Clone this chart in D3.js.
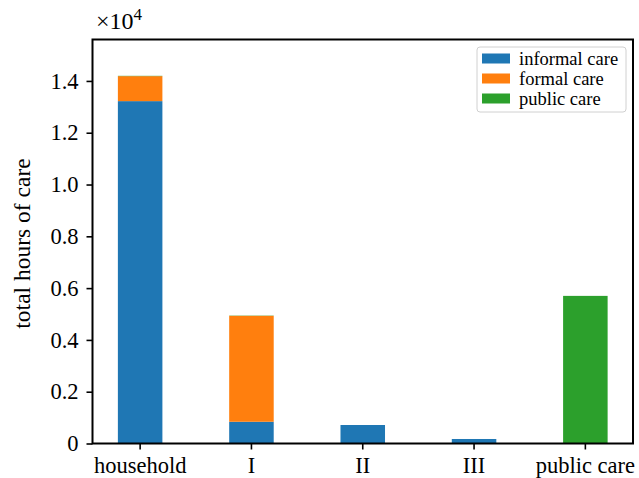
<!DOCTYPE html>
<html>
<head>
<meta charset="utf-8">
<script src="https://cdn.jsdelivr.net/npm/d3@7"></script>
<style>
  body { margin: 0; background: #fff; }
  svg { display: block; }
  text { font-family: "Liberation Serif", "DejaVu Serif", serif; fill: #000; }
</style>
</head>
<body>
<svg id="chart" width="639" height="478"></svg>
<script>
// ---- data ----
const categories = ["household", "I", "II", "III", "public care"];
const informalCare = [13220, 840, 714, 174, 0];
const formalCare = [965, 4090, 0, 0, 0];
const publicCare = [12, 10, 0, 0, 5700];
const seriesNames = ["informal care", "formal care", "public care"];
const seriesColors = ["#1f77b4", "#ff7f0e", "#2ca02c"];
const yTickValues = [0, 2000, 4000, 6000, 8000, 10000, 12000, 14000];
const yTickLabels = ["0", "0.2", "0.4", "0.6", "0.8", "1.0", "1.2", "1.4"];

// ---- layout ----
const pL = 92.5, pR = 633, pT = 39.5, pB = 443.5;
const svg = d3.select("#chart");

const table = categories.map((c, i) => ({
  cat: c,
  "informal care": informalCare[i],
  "formal care": formalCare[i],
  "public care": publicCare[i]
}));
const stacked = d3.stack().keys(seriesNames)(table);

const x = d3.scaleBand().domain(categories).range([pL, pR])
  .paddingInner(0.6).paddingOuter(0.228);
const y = d3.scaleLinear().domain([0, 15600]).range([pB, pT]);
const color = d3.scaleOrdinal().domain(seriesNames).range(seriesColors);

// bars
svg.append("g").selectAll("g").data(stacked).join("g")
  .attr("fill", d => color(d.key))
  .selectAll("rect").data(d => d).join("rect")
  .attr("x", d => x(d.data.cat))
  .attr("width", x.bandwidth())
  .attr("y", d => y(d[1]))
  .attr("height", d => Math.max(0, y(d[0]) - y(d[1])));

// axes
const yAxis = d3.axisLeft(y).tickValues(yTickValues)
  .tickFormat((d, i) => yTickLabels[i]).tickSizeOuter(0).tickSize(6).tickPadding(8);
const gy = svg.append("g").attr("transform", `translate(${pL},0)`).call(yAxis);
const xAxis = d3.axisBottom(x).tickSizeOuter(0).tickSize(6).tickPadding(8);
const gx = svg.append("g").attr("transform", `translate(0,${pB})`).call(xAxis);
[gx, gy].forEach(g => {
  g.select(".domain").remove();
  g.selectAll(".tick line").attr("stroke", "#000").attr("stroke-width", 1.6);
  g.selectAll(".tick text").style("font-size", "22.5px").attr("fill", "#000")
    .style("font-family", '"Liberation Serif", serif');
});
gx.selectAll(".tick text").attr("dy", "0.71em");

// frame
svg.append("rect").attr("x", pL).attr("y", pT)
  .attr("width", pR - pL).attr("height", pB - pT)
  .attr("fill", "none").attr("stroke", "#000").attr("stroke-width", 2);

// y label
svg.append("text")
  .attr("transform", `translate(30,${(pT + pB) / 2 + 2}) rotate(-90)`)
  .attr("text-anchor", "middle")
  .style("font-size", "23.5px")
  .text("total hours of care");

// multiplier
const mt = svg.append("text").attr("x", 96).attr("y", 29).style("font-size", "24px");
mt.append("tspan").text("\u00d710");
mt.append("tspan").attr("dy", -9).style("font-size", "17px").text("4");

// legend
const lg = svg.append("g");
lg.append("rect").attr("x", 477).attr("y", 47).attr("width", 149).attr("height", 65)
  .attr("rx", 3).attr("fill", "#fff").attr("fill-opacity", 0.8)
  .attr("stroke", "#d0d0d0").attr("stroke-width", 1);
seriesNames.forEach((s, i) => {
  const cy = 58.5 + i * 20;
  lg.append("rect").attr("x", 482).attr("y", cy - 5).attr("width", 28).attr("height", 10)
    .attr("fill", color(s));
  lg.append("text").attr("x", 519).attr("y", cy + 6).style("font-size", "18.5px").text(s);
});
</script>
</body>
</html>
